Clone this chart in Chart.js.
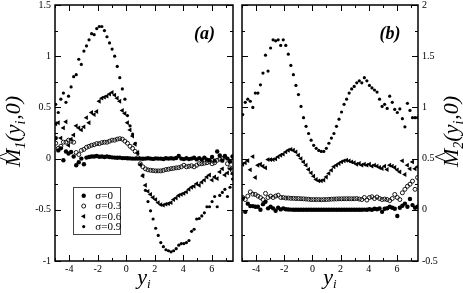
<!DOCTYPE html>
<html>
<head>
<meta charset="utf-8">
<script src="https://cdn.jsdelivr.net/npm/chart.js@4.4.1/dist/chart.umd.min.js"></script>
<style>
  html, body { margin: 0; padding: 0; background: #fff; }
  #wrap { position: relative; width: 463px; height: 293px; }
  #wrap canvas { position: absolute; left: 0; top: 0; }
</style>
</head>
<body>
<div id="wrap">
  <canvas id="chartA" width="463" height="293"></canvas>
  <canvas id="chartB" width="463" height="293"></canvas>
</div>
<script>
// positions y_i where the moments were sampled
const yGrid = [
  -4.95, -4.77, -4.59, -4.41, -4.23, -4.05, -3.87, -3.69, -3.51, -3.33,
  -3.15, -2.97, -2.79, -2.61, -2.43, -2.25, -2.07, -1.89, -1.71, -1.53,
  -1.35, -1.17, -0.99, -0.81, -0.63, -0.45, -0.27, -0.09, 0.09, 0.27,
  0.45, 0.63, 0.81, 0.99, 1.17, 1.35, 1.53, 1.71, 1.89, 2.07,
  2.25, 2.43, 2.61, 2.79, 2.97, 3.15, 3.33, 3.51, 3.69, 3.87,
  4.05, 4.23, 4.41, 4.59, 4.77, 4.95, 5.13, 5.31, 5.49, 5.67,
  5.85, 6.03, 6.21, 6.39, 6.57, 6.75, 6.93, 7.11, 7.29, 7.47
];

const sigmaLabels = ['σ=0', 'σ=0.3', 'σ=0.6', 'σ=0.9'];

// panel (a): M1
const aSigma0 = [
  0.20, 0.08, 0.10, -0.016, 0.07, 0.05, 0.065, 0.02, -0.065, -0.035,
  0.0, -0.055, 0.01, 0.015, 0.02, 0.02, 0.025, 0.018, 0.02, 0.015,
  0.02, 0.015, 0.012, 0.01, 0.008, 0.01, 0.005, 0.005, 0.003, 0.002,
  0.0, 0.0, 0.0, 0.0, -0.002, 0.0, 0.003, 0.0, -0.003, 0.002,
  0.0, 0.0, -0.004, 0.004, 0.0, 0.003, 0.0, 0.006, 0.025, 0.0,
  -0.005, 0.003, -0.005, 0.0, 0.008, -0.008, 0.005, -0.01, 0.01, -0.01,
  -0.015, 0.015, -0.02, 0.07, 0.03, -0.02, 0.025, 0.0, -0.03, 0.02
];
const aSigma03 = [
  0.15, 0.10, 0.12, 0.16, 0.16, 0.18, 0.17, 0.16, 0.06, 0.04,
  0.08, 0.09, 0.11, 0.12, 0.13, 0.136, 0.146, 0.146, 0.156, 0.16,
  0.16, 0.17, 0.18, 0.18, 0.19, 0.195, 0.19, 0.17, 0.15, 0.12,
  0.10, 0.07, 0.01, -0.05, -0.08, -0.10, -0.11, -0.114, -0.117, -0.12,
  -0.12, -0.12, -0.115, -0.107, -0.104, -0.098, -0.095, -0.09, -0.088, -0.08,
  -0.065, -0.08, -0.075, -0.07, -0.08, -0.065, -0.05, -0.05, -0.045, -0.04,
  -0.03, -0.05, -0.04, -0.016, -0.005, 0.0, 0.016, -0.05, -0.09, -0.12
];
const aSigma06 = [
  0.34, 0.35, 0.20, 0.30, 0.36, 0.13, 0.19, 0.23, 0.32, 0.30,
  0.28, 0.31, 0.40, 0.35, 0.45, 0.43, 0.46, 0.56, 0.59, 0.60,
  0.61, 0.63, 0.646, 0.62, 0.59, 0.56, 0.47, 0.44, 0.35, 0.28,
  0.22, 0.14, 0.06, -0.06, -0.17, -0.26, -0.32, -0.35, -0.38, -0.40,
  -0.43, -0.45, -0.455, -0.445, -0.44, -0.43, -0.40, -0.385, -0.36, -0.35,
  -0.34, -0.325, -0.30, -0.28, -0.27, -0.245, -0.26, -0.23, -0.21, -0.18,
  -0.16, -0.21, -0.18, -0.195, -0.13, -0.10, -0.16, -0.14, -0.10, -0.15
];
const aSigma09 = [
  0.53, 0.45, 0.58, 0.64, 0.55, 0.61, 0.70, 0.80, 0.82, 0.97,
  0.92, 1.05, 1.10, 1.16, 1.22, 1.21, 1.27, 1.29, 1.29, 1.25,
  1.19, 1.13, 1.07, 1.00, 0.90, 0.79, 0.68, 0.58, 0.42, 0.32,
  0.24, 0.15, 0.05, -0.06, -0.16, -0.31, -0.42, -0.51, -0.59, -0.68,
  -0.75, -0.82, -0.86, -0.89, -0.90, -0.91, -0.90, -0.88, -0.845, -0.83,
  -0.83, -0.82, -0.80, -0.71, -0.69, -0.59, -0.585, -0.56, -0.53, -0.47,
  -0.47, -0.42, -0.37, -0.47, -0.36, -0.33, -0.30, -0.37, -0.28, -0.20
];

// panel (b): M2
const bSigma0 = [
  0.11, -0.02, 0.06, 0.036, 0.036, 0.03, 0.03, 0.0, 0.055, 0.078,
  0.014, 0.03, 0.014, -0.01, 0.02, 0.004, 0.014, 0.005, 0.003, 0.002,
  0.0, 0.0, 0.001, 0.0, 0.0, 0.0, 0.0, 0.0, 0.0, 0.0,
  0.0, 0.0, 0.0, 0.0, 0.0, 0.0, 0.0, 0.0, 0.0, 0.0,
  0.0, 0.0, 0.0, 0.0, 0.0, 0.0, 0.0, 0.0, 0.002, 0.0,
  0.005, 0.0, 0.01, 0.005, 0.012, -0.02, 0.01, 0.015, 0.03, 0.02,
  0.01, -0.06, 0.02, 0.04, 0.06, 0.03, 0.105, 0.046, 0.02, 0.03
];
const bSigma03 = [
  0.12, 0.10, 0.134, 0.175, 0.153, 0.15, 0.134, 0.12, 0.10, 0.16,
  0.12, 0.134, 0.12, 0.134, 0.143, 0.12, 0.12, 0.115, 0.115, 0.112,
  0.112, 0.11, 0.11, 0.108, 0.107, 0.105, 0.103, 0.10, 0.10, 0.10,
  0.10, 0.098, 0.10, 0.10, 0.102, 0.104, 0.105, 0.106, 0.107, 0.107,
  0.108, 0.108, 0.108, 0.108, 0.108, 0.11, 0.105, 0.10, 0.12, 0.095,
  0.12, 0.127, 0.11, 0.125, 0.11, 0.10, 0.105, 0.10, 0.09, 0.11,
  0.15, 0.12, 0.10, 0.166, 0.20, 0.23, 0.25, 0.28, 0.20, 0.315
];
const bSigma06 = [
  0.445, 0.458, 0.48, 0.39, 0.52, 0.315, 0.435, 0.445, 0.425, 0.41,
  0.49, 0.49, 0.49, 0.497, 0.517, 0.533, 0.543, 0.565, 0.582, 0.59,
  0.582, 0.565, 0.533, 0.50, 0.468, 0.436, 0.394, 0.36, 0.328, 0.296,
  0.283, 0.283, 0.29, 0.32, 0.355, 0.387, 0.42, 0.436, 0.452, 0.468,
  0.478, 0.484, 0.478, 0.468, 0.46, 0.445, 0.452, 0.436, 0.445, 0.436,
  0.445, 0.426, 0.436, 0.426, 0.413, 0.403, 0.426, 0.394, 0.436, 0.426,
  0.413, 0.39, 0.37, 0.478, 0.345, 0.436, 0.40, 0.468, 0.40, 0.42
];
const bSigma09 = [
  0.93, 1.05, 1.08, 1.06, 1.00, 1.14, 1.14, 1.22, 1.335, 1.51,
  1.355, 1.58, 1.66, 1.65, 1.66, 1.605, 1.66, 1.605, 1.52, 1.41,
  1.32, 1.215, 1.125, 1.01, 0.90, 0.815, 0.745, 0.68, 0.63, 0.60,
  0.58, 0.57, 0.57, 0.60, 0.65, 0.70, 0.745, 0.815, 0.885, 0.955,
  1.03, 1.08, 1.14, 1.18, 1.205, 1.24, 1.26, 1.24, 1.29, 1.26,
  1.215, 1.19, 1.17, 1.15, 1.08, 1.01, 1.03, 0.99, 1.11, 1.05,
  0.98, 0.95, 0.985, 0.89, 0.81, 1.04, 0.97, 0.90, 0.90, 0.90
];

const xTicks = [-4, -2, 0, 2, 4, 6];
const xTickLabels = ['-4', '-2', '0', '2', '4', '6'];
const xMinorTicks = [-5, -3, -1, 1, 3, 5, 7];
const aYTicks = [-1, -0.5, 0, 0.5, 1, 1.5];
const aYTickLabels = ['-1', '-0.5', '0', '0.5', '1', '1.5'];
const aYMinorTicks = [-0.75, -0.25, 0.25, 0.75, 1.25];
const bYTicks = [-0.5, 0, 0.5, 1, 1.5, 2];
const bYTickLabels = ['-0.5', '0', '0.5', '1', '1.5', '2'];
const bYMinorTicks = [-0.25, 0.25, 0.75, 1.25, 1.75];

const serif = '"Liberation Serif", "DejaVu Serif", serif';

// marker look for each sigma
const markerStyles = [
  { pointStyle: 'circle', radius: 2.2, rotation: 0, fill: '#000', border: 0 },
  { pointStyle: 'circle', radius: 2.0, rotation: 0, fill: 'rgba(0,0,0,0)', border: 0.9 },
  { pointStyle: 'triangle', radius: 2.8, rotation: -90, fill: '#000', border: 0 },
  { pointStyle: 'circle', radius: 1.6, rotation: 0, fill: '#000', border: 0 }
];

function buildDatasets(series) {
  return series.map((vals, i) => {
    const m = markerStyles[i];
    return {
      label: sigmaLabels[i],
      data: yGrid.map((x, k) => ({ x: x, y: vals[k] })),
      pointStyle: m.pointStyle,
      pointRadius: m.radius,
      pointRotation: m.rotation,
      pointBackgroundColor: m.fill,
      pointBorderColor: '#000',
      pointBorderWidth: m.border,
      showLine: false
    };
  });
}

function drawYTitle(ctx, bx, by, sub) {
  ctx.save();
  ctx.translate(bx, by);
  ctx.rotate(-Math.PI / 2);
  ctx.fillStyle = '#000';
  ctx.textAlign = 'left';
  ctx.textBaseline = 'alphabetic';
  const big = 'italic 22px ' + serif;
  const small = 'italic 14px ' + serif;
  let x = 0;
  ctx.font = big;
  ctx.fillText('M', x, 0);
  const mw = ctx.measureText('M').width;
  ctx.font = '20px ' + serif;
  const hw = ctx.measureText('^').width;
  ctx.fillText('^', x + mw / 2 - hw / 2 + 1, -9);
  x += mw;
  ctx.font = small;
  ctx.fillText(sub, x, 5);
  x += ctx.measureText(sub).width;
  ctx.font = big;
  ctx.fillText('(y', x, 0);
  x += ctx.measureText('(y').width;
  ctx.font = small;
  ctx.fillText('i', x, 5);
  x += ctx.measureText('i').width + 1;
  ctx.font = big;
  ctx.fillText(',0)', x, 0);
  ctx.restore();
}

function drawXTitle(ctx, cx, baseY) {
  ctx.save();
  ctx.fillStyle = '#000';
  ctx.textBaseline = 'alphabetic';
  ctx.textAlign = 'left';
  ctx.font = 'italic 22px ' + serif;
  const yw = ctx.measureText('y').width;
  ctx.font = 'italic 13px ' + serif;
  const iw = ctx.measureText('i').width;
  const x0 = cx - (yw + iw) / 2;
  ctx.font = 'italic 22px ' + serif;
  ctx.fillText('y', x0, baseY);
  ctx.font = 'italic 13px ' + serif;
  ctx.fillText('i', x0 + yw, baseY + 4.5);
  ctx.restore();
}

const panelDecor = {
  id: 'panelDecor',
  afterDraw(chart, args, o) {
    const { ctx, chartArea: a } = chart;
    const xs = chart.scales.x, ys = chart.scales.y;
    ctx.save();
    ctx.strokeStyle = '#000';
    ctx.lineWidth = 1;
    ctx.beginPath();
    const xMark = (vals, len) => vals.forEach(v => {
      const px = Math.round(xs.getPixelForValue(v)) + 0.5;
      ctx.moveTo(px, a.top); ctx.lineTo(px, a.top + len);
      ctx.moveTo(px, a.bottom); ctx.lineTo(px, a.bottom - len);
    });
    const yMark = (vals, len) => vals.forEach(v => {
      const py = Math.round(ys.getPixelForValue(v)) + 0.5;
      ctx.moveTo(a.left, py); ctx.lineTo(a.left + len, py);
      ctx.moveTo(a.right, py); ctx.lineTo(a.right - len, py);
    });
    xMark(xTicks, 6);
    xMark(xMinorTicks, 3);
    yMark(o.yMajor, 6);
    yMark(o.yMinor, 3);
    ctx.stroke();
    ctx.lineWidth = 1.5;
    ctx.strokeRect(a.left, a.top, a.right - a.left, a.bottom - a.top);

    // panel tag
    ctx.fillStyle = '#000';
    ctx.font = 'bold italic 18px ' + serif;
    ctx.textAlign = 'center';
    ctx.textBaseline = 'alphabetic';
    ctx.fillText(o.tag, o.tagX, 38.5);

    drawXTitle(ctx, (a.left + a.right) / 2, 283.5);
    drawYTitle(ctx, o.titleX, 167, o.sub);

    if (o.legend) {
      ctx.lineWidth = 1;
      ctx.strokeStyle = '#444';
      ctx.fillStyle = '#fff';
      ctx.fillRect(73, 187, 48, 48);
      ctx.strokeRect(73.5, 187.5, 47, 47);
      chart.data.datasets.forEach((ds, i) => {
        const cy = 195.8 + i * 10.25;
        ctx.fillStyle = ds.pointBackgroundColor;
        ctx.strokeStyle = '#000';
        ctx.lineWidth = ds.pointBorderWidth || 1;
        Chart.helpers.drawPoint(ctx, {
          pointStyle: ds.pointStyle, radius: ds.pointRadius,
          rotation: ds.pointRotation, borderWidth: ds.pointBorderWidth
        }, 83.7, cy);
        ctx.fillStyle = '#000';
        ctx.font = '11px ' + serif;
        ctx.textAlign = 'left';
        ctx.textBaseline = 'middle';
        ctx.fillText(ds.label, 95.3, cy + 0.5);
      });
    }
    ctx.restore();
  }
};

function makePanel(id, series, yRange, yTicks, yLabels, side, pad, decor) {
  const tickFont = { family: serif, size: 10, lineHeight: 1 };
  return new Chart(document.getElementById(id), {
    type: 'scatter',
    data: { datasets: buildDatasets(series) },
    options: {
      responsive: false,
      animation: false,
      devicePixelRatio: 1,
      layout: { padding: pad },
      plugins: {
        legend: { display: false },
        tooltip: { enabled: false },
        panelDecor: decor
      },
      scales: {
        x: {
          type: 'linear', min: -5, max: 7.5,
          grid: { display: false, drawTicks: false },
          border: { display: false },
          afterBuildTicks: s => { s.ticks = xTicks.map(v => ({ value: v })); },
          afterFit: s => { s.height = 32; s.paddingLeft = 0; s.paddingRight = 0; },
          ticks: {
            autoSkip: false, maxRotation: 0, padding: 3, color: '#000', font: tickFont,
            callback: v => xTickLabels[xTicks.indexOf(v)]
          }
        },
        y: {
          type: 'linear', position: side, min: yRange[0], max: yRange[1],
          grid: { display: false, drawTicks: false },
          border: { display: false },
          afterBuildTicks: s => { s.ticks = yTicks.map(v => ({ value: v })); },
          afterFit: s => { s.width = side === 'left' ? 55 : 40; s.paddingTop = 0; s.paddingBottom = 0; },
          ticks: {
            autoSkip: false, padding: 4, color: '#000', font: tickFont,
            callback: v => yLabels[yTicks.indexOf(v)]
          }
        }
      }
    },
    plugins: [panelDecor]
  });
}

makePanel('chartA', [aSigma0, aSigma03, aSigma06, aSigma09], [-1, 1.5], aYTicks, aYTickLabels, 'left',
  { left: 0, right: 230, top: 5, bottom: 0 },
  { yMajor: aYTicks, yMinor: aYMinorTicks, tag: '(a)', tagX: 204.5, titleX: 20, sub: '1', legend: true });

makePanel('chartB', [bSigma0, bSigma03, bSigma06, bSigma09], [-0.5, 2], bYTicks, bYTickLabels, 'right',
  { left: 242, right: 5, top: 5, bottom: 0 },
  { yMajor: bYTicks, yMinor: bYMinorTicks, tag: '(b)', tagX: 390, titleX: 458, sub: '2', legend: false });
</script>
</body>
</html>
